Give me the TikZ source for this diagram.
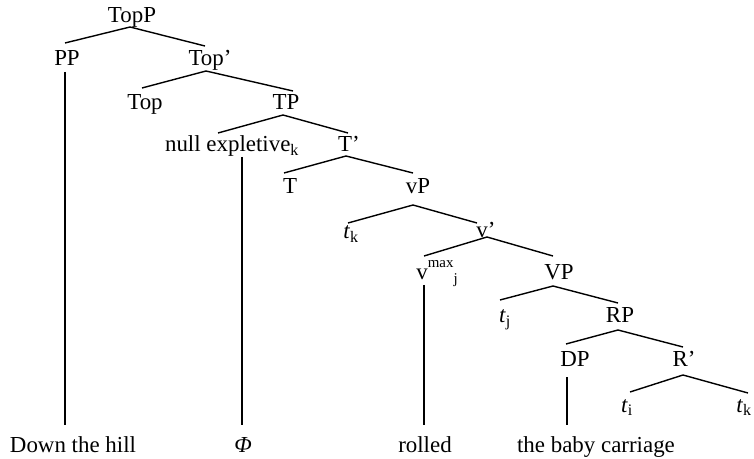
\documentclass[tikz,border=0pt]{standalone}
\usepackage{fontspec}
\setmainfont{Liberation Serif}
\begin{document}
\begin{tikzpicture}[x=1bp,y=-1bp,
  lbl/.style={anchor=base,inner sep=0pt,font=\fontsize{23}{27}\selectfont},
  branch/.style={line width=1.4bp,line cap=butt}]
\useasboundingbox (0,0) rectangle (754,459);

% category labels (centre x, baseline y)
\node[lbl] (TopP)  at (132,23)  {TopP};
\node[lbl] (PP)    at (67,66)   {PP};
\node[lbl] (Topb)  at (210,66)  {Top’};
\node[lbl] (Top)   at (145,110) {Top};
\node[lbl] (TP)    at (286,110) {TP};
\node[lbl] (nexp)  at (232,152) {null expletive\textsubscript{k}};
\node[lbl] (Tb)    at (349,152) {T’};
\node[lbl] (T)     at (290,194) {T};
\node[lbl] (vP)    at (418,194) {vP};
\node[lbl] (tk)    at (351,239) {\textit{t}\textsubscript{k}};
\node[lbl] (vb)    at (486,238) {v’};
\node[lbl] (vmax)  at (437,280) {v\raisebox{12bp}{\fontsize{15}{17}\selectfont max}\raisebox{-4bp}{\fontsize{15}{17}\selectfont j}};
\node[lbl] (VP)    at (559,280) {VP};
\node[lbl] (tj)    at (505,323) {\textit{t}\textsubscript{j}};
\node[lbl] (RP)    at (620,323) {RP};
\node[lbl] (DP)    at (575,367) {DP};
\node[lbl] (Rb)    at (684,367) {R’};
\node[lbl] (ti)    at (627,412) {\textit{t}\textsubscript{i}};
\node[lbl] (tk2)   at (744,412) {\textit{t}\textsubscript{k}};

% words
\node[lbl] (w1) at (73,452)  {Down the hill};
\node[lbl] (w2) at (243,452) {\textit{Φ}};
\node[lbl] (w3) at (425,452) {rolled};
\node[lbl] (w4) at (596,452) {the baby carriage};

% branching points and branch ends
\coordinate (TopP-b) at (130,27);
\coordinate (PP-t)   at (65,43);
\coordinate (Topb-t) at (205,46);
\coordinate (Topb-b) at (206,71);
\coordinate (Top-t)  at (142,88);
\coordinate (TP-t)   at (293,91);
\coordinate (TP-b)   at (283,115);
\coordinate (nexp-t) at (218,133);
\coordinate (Tb-t)   at (348,133);
\coordinate (Tb-b)   at (346,156);
\coordinate (T-t)    at (284,173);
\coordinate (vP-t)   at (413,173);
\coordinate (vP-b)   at (413,205);
\coordinate (tk-t)   at (348,223);
\coordinate (vb-t)   at (477,223);
\coordinate (vb-b)   at (487,237);
\coordinate (vmax-t) at (424,256);
\coordinate (VP-t)   at (553,256);
\coordinate (VP-b)   at (553,286);
\coordinate (tj-t)   at (500,300);
\coordinate (RP-t)   at (618,303);
\coordinate (RP-b)   at (618,330);
\coordinate (DP-t)   at (566,344);
\coordinate (Rb-t)   at (683,347);
\coordinate (Rb-b)   at (683,375);
\coordinate (ti-t)   at (630,392);
\coordinate (tk2-t)  at (748,393);

% lexical stems
\coordinate (PP-b)   at (65,72);
\coordinate (nexp-b) at (242,157);
\coordinate (vmax-b) at (424,285);
\coordinate (DP-b)   at (567,377);
\coordinate (w1-t)   at (65,425);
\coordinate (w2-t)   at (242,425);
\coordinate (w3-t)   at (424,425);
\coordinate (w4-t)   at (567,425);

\draw[branch] (PP-t) -- (TopP-b) -- (Topb-t);
\draw[branch] (Top-t) -- (Topb-b) -- (TP-t);
\draw[branch] (nexp-t) -- (TP-b) -- (Tb-t);
\draw[branch] (T-t) -- (Tb-b) -- (vP-t);
\draw[branch] (tk-t) -- (vP-b) -- (vb-t);
\draw[branch] (vmax-t) -- (vb-b) -- (VP-t);
\draw[branch] (tj-t) -- (VP-b) -- (RP-t);
\draw[branch] (DP-t) -- (RP-b) -- (Rb-t);
\draw[branch] (ti-t) -- (Rb-b) -- (tk2-t);

\draw[branch] (PP-b) -- (w1-t);
\draw[branch] (nexp-b) -- (w2-t);
\draw[branch] (vmax-b) -- (w3-t);
\draw[branch] (DP-b) -- (w4-t);
\end{tikzpicture}
\end{document}
